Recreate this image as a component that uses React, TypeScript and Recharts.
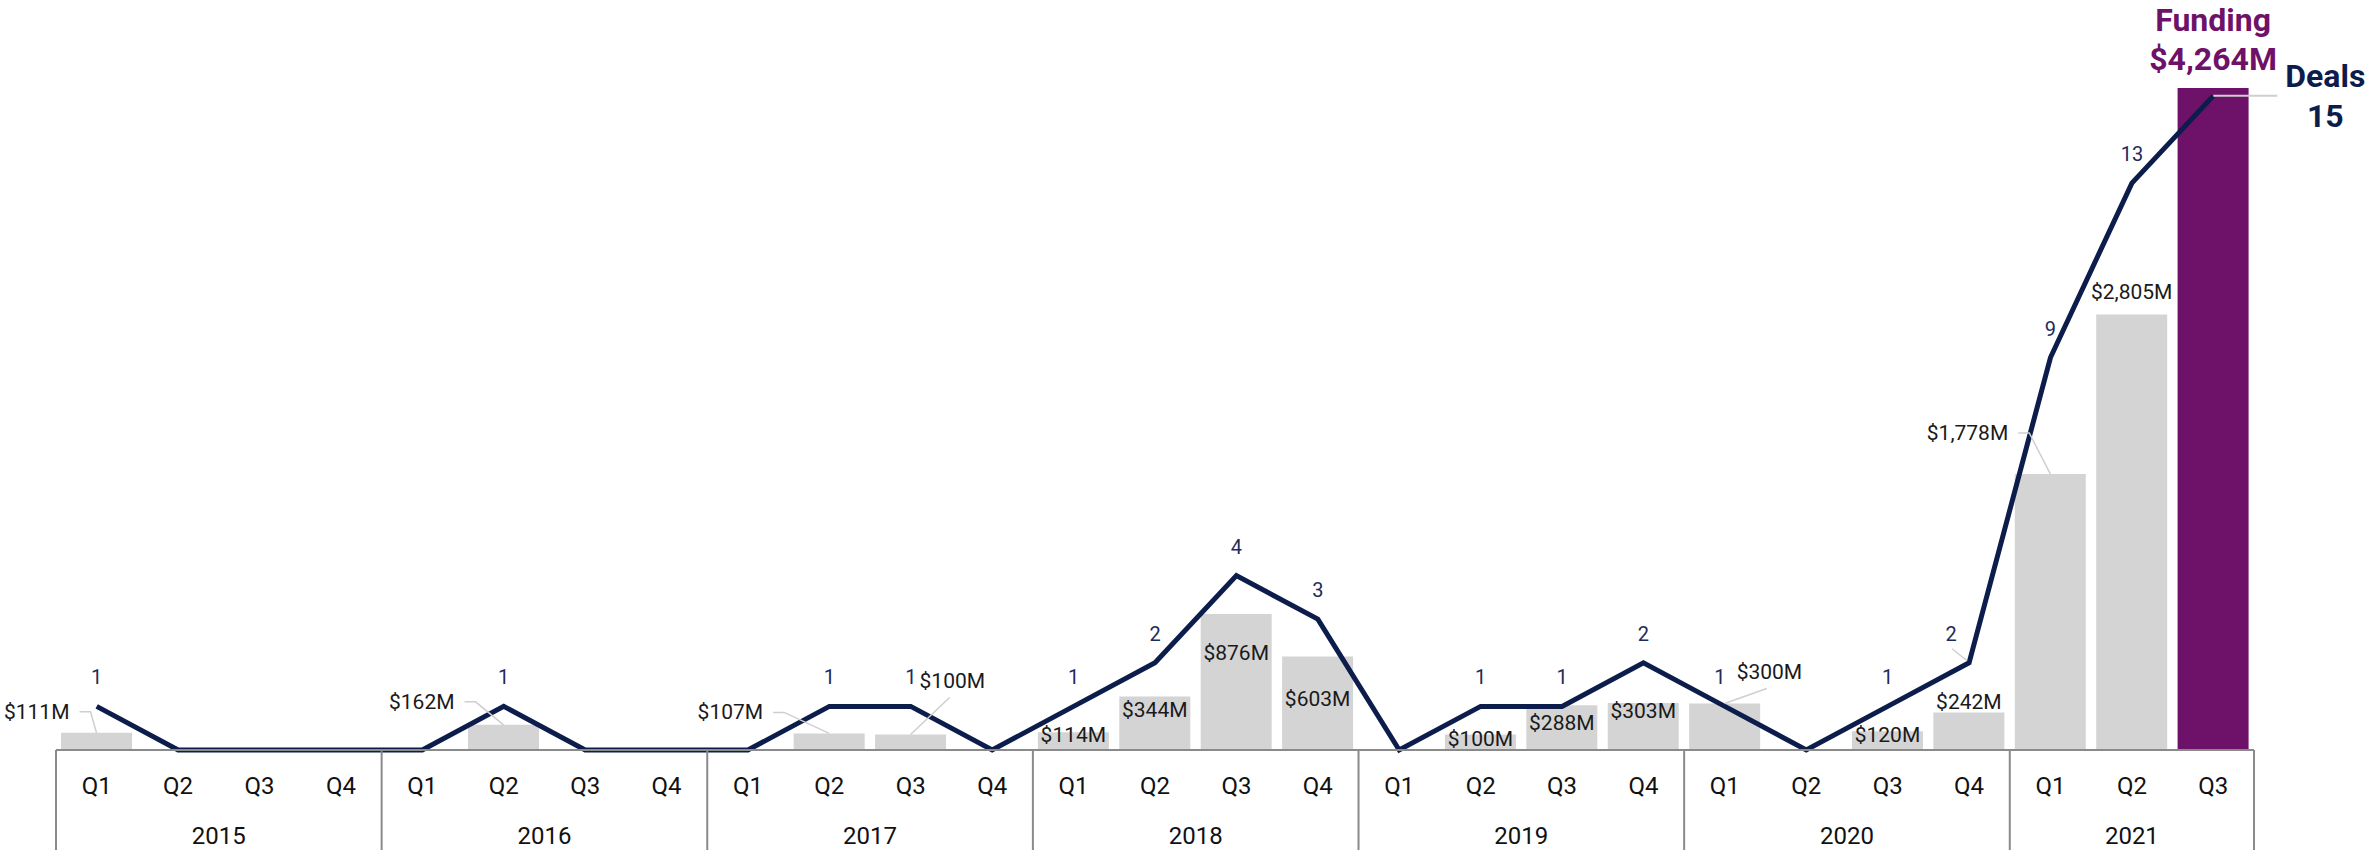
import { ComposedChart, Bar, Line, XAxis, YAxis, Cell, LabelList } from 'recharts'

const CHART_W = 2369
const CHART_H = 850
const AXIS_ROW = 50
const PLOT_BOTTOM = CHART_H - AXIS_ROW * 2
const MARGIN = { top: 88, right: 115, bottom: 0, left: 56 }

const FONT = 'Roboto, "Noto Sans", sans-serif'
const NAVY = '#0c1d4c'
const NAVY_TEXT = '#1d2b5c'
const PURPLE = '#6e1269'
const BAR_GRAY = '#d5d4d5'
const LEADER = '#cfcfcf'
const AXIS_GRAY = '#8a8a8a'

// data
const years = [
  '2015', '2015', '2015', '2015',
  '2016', '2016', '2016', '2016',
  '2017', '2017', '2017', '2017',
  '2018', '2018', '2018', '2018',
  '2019', '2019', '2019', '2019',
  '2020', '2020', '2020', '2020',
  '2021', '2021', '2021',
]
const quarters = [
  'Q1', 'Q2', 'Q3', 'Q4',
  'Q1', 'Q2', 'Q3', 'Q4',
  'Q1', 'Q2', 'Q3', 'Q4',
  'Q1', 'Q2', 'Q3', 'Q4',
  'Q1', 'Q2', 'Q3', 'Q4',
  'Q1', 'Q2', 'Q3', 'Q4',
  'Q1', 'Q2', 'Q3',
]
const deals = [1, 0, 0, 0, 0, 1, 0, 0, 0, 1, 1, 0, 1, 2, 4, 3, 0, 1, 1, 2, 1, 0, 1, 2, 9, 13, 15]
// funding in $M, null = no disclosed funding that quarter
const funding = [
  111, null, null, null,
  null, 162, null, null,
  null, 107, 100, null,
  114, 344, 876, 603,
  null, 100, 288, 303,
  300, null, 120, 242,
  1778, 2805, 4264,
]

const rows = years.map((year, i) => ({
  year,
  quarter: quarters[i],
  deals: deals[i],
  funding: funding[i],
}))

const LAST = rows.length - 1
const BAND = (CHART_W - MARGIN.left - MARGIN.right) / rows.length

// label placement (pixels relative to bar top / line point)
type Placement = { mode?: 'left' | 'right'; dx?: number; dy: number }
const fundingPlacement: Record<number, Placement> = {
  0: { mode: 'left', dx: -27, dy: -21 },
  5: { mode: 'left', dx: -49, dy: -23 },
  9: { mode: 'left', dx: -66, dy: -21 },
  10: { mode: 'right', dx: 9, dy: -53 },
  12: { dy: 3 },
  13: { dy: 13 },
  14: { dy: 39 },
  15: { dy: 43 },
  17: { dy: 5 },
  18: { dy: 18 },
  19: { dy: 8 },
  20: { mode: 'right', dx: 12, dy: -31 },
  22: { dy: 4 },
  23: { dy: -10 },
  24: { mode: 'left', dx: -42, dy: -41 },
  25: { dy: -23 },
}
const dealsPlacement: Record<number, { dx: number; dy: number; leader?: boolean }> = {
  20: { dx: -5, dy: -29 },
  23: { dx: -18, dy: -29, leader: true },
}

function fmtMoney(v: number) {
  return '$' + v.toLocaleString('en-US') + 'M'
}

// bars skip empty quarters, so find the category from the bar's centre
function categoryAt(cx: number) {
  return Math.min(LAST, Math.max(0, Math.floor((cx - MARGIN.left) / BAND)))
}

function FundingLabel(props: any) {
  const { x, y, width, value } = props
  if (value == null) return null
  const cx = Number(x) + Number(width) / 2
  const top = Number(y)
  const index = categoryAt(cx)

  if (index === LAST) {
    return (
      <g fontFamily={FONT} fontWeight={700} fontSize={32} fill={PURPLE} textAnchor="middle">
        <text x={cx} y={top - 57}>Funding</text>
        <text x={cx} y={top - 18}>{fmtMoney(value)}</text>
      </g>
    )
  }

  const p = fundingPlacement[index] ?? { dy: -14 }
  const ly = top + p.dy
  const common = { fontFamily: FONT, fontSize: 21, fill: '#1a1a1a', dominantBaseline: 'central' as const }

  if (p.mode === 'left') {
    const end = cx + (p.dx ?? 0)
    return (
      <g>
        <polyline
          points={`${end + 10},${ly} ${end + 21},${ly} ${cx},${top}`}
          fill="none"
          stroke={LEADER}
          strokeWidth={1.5}
        />
        <text x={end} y={ly} textAnchor="end" {...common}>{fmtMoney(value)}</text>
      </g>
    )
  }
  if (p.mode === 'right') {
    const start = cx + (p.dx ?? 0)
    return (
      <g>
        <line x1={cx} y1={top} x2={start + 30} y2={ly + 16} stroke={LEADER} strokeWidth={1.5} />
        <text x={start} y={ly} textAnchor="start" {...common}>{fmtMoney(value)}</text>
      </g>
    )
  }
  return (
    <text x={cx} y={ly} textAnchor="middle" {...common}>{fmtMoney(value)}</text>
  )
}

function DealsLabel(props: any) {
  const { x, y, value } = props
  if (!value) return null
  const px = Number(x)
  const py = Number(y)
  const index = categoryAt(px)

  if (index === LAST) {
    return (
      <g>
        <line x1={px} y1={py} x2={px + 64} y2={py} stroke={LEADER} strokeWidth={2} />
        <g fontFamily={FONT} fontWeight={700} fontSize={32} fill={NAVY} textAnchor="middle">
          <text x={px + 112} y={py - 9}>Deals</text>
          <text x={px + 112} y={py + 31}>{value}</text>
        </g>
      </g>
    )
  }

  const p = dealsPlacement[index] ?? { dx: 0, dy: -29 }
  const lx = px + p.dx
  const ly = py + p.dy
  return (
    <g>
      {p.leader && (
        <line x1={lx + 1} y1={ly + 15} x2={px - 2} y2={py - 2} stroke={LEADER} strokeWidth={1.5} />
      )}
      <text
        x={lx}
        y={ly}
        textAnchor="middle"
        dominantBaseline="central"
        fontFamily={FONT}
        fontSize={20}
        fill={NAVY_TEXT}
      >
        {value}
      </text>
    </g>
  )
}

function QuarterTick(props: any) {
  const { x, payload } = props
  return (
    <text
      x={x}
      y={PLOT_BOTTOM + 36}
      textAnchor="middle"
      dominantBaseline="central"
      fontFamily={FONT}
      fontSize={24}
      fill="#111"
    >
      {payload.value}
    </text>
  )
}

function YearTick(props: any) {
  const { x, payload } = props
  const i = payload.index
  const half = payload.offset || BAND / 2
  const first = i === 0 || years[i - 1] !== years[i]
  const count = years.filter((y) => y === years[i]).length
  return (
    <g>
      {first && (
        <>
          <line x1={x - half} y1={PLOT_BOTTOM} x2={x - half} y2={CHART_H} stroke={AXIS_GRAY} strokeWidth={2} />
          <text
            x={x - half + count * half}
            y={PLOT_BOTTOM + 86}
            textAnchor="middle"
            dominantBaseline="central"
            fontFamily={FONT}
            fontSize={24}
            fill="#111"
          >
            {payload.value}
          </text>
        </>
      )}
      {i === years.length - 1 && (
        <line x1={x + half} y1={PLOT_BOTTOM} x2={x + half} y2={CHART_H} stroke={AXIS_GRAY} strokeWidth={2} />
      )}
    </g>
  )
}

export default function App() {
  return (
    <div style={{ width: CHART_W, height: CHART_H, background: '#fff' }}>
      <style>{'body{margin:0}'}</style>
      <ComposedChart width={CHART_W} height={CHART_H} data={rows} margin={MARGIN}>
        <XAxis
          xAxisId="q"
          dataKey="quarter"
          height={AXIS_ROW}
          interval={0}
          tickLine={false}
          axisLine={{ stroke: AXIS_GRAY, strokeWidth: 2 }}
          tick={<QuarterTick />}
        />
        <XAxis
          xAxisId="y"
          dataKey="year"
          height={AXIS_ROW}
          interval={0}
          tickLine={false}
          axisLine={false}
          tick={<YearTick />}
        />
        <YAxis yAxisId="f" hide width={0} domain={[0, 4264]} />
        <YAxis yAxisId="d" hide width={0} orientation="right" domain={[0, 15.18]} />
        <Bar xAxisId="q" yAxisId="f" dataKey="funding" barSize={71} isAnimationActive={false}>
          {rows.map((_, i) => (
            <Cell key={i} fill={i === LAST ? PURPLE : BAR_GRAY} />
          ))}
          <LabelList dataKey="funding" content={<FundingLabel />} />
        </Bar>
        <Line
          xAxisId="q"
          yAxisId="d"
          dataKey="deals"
          type="linear"
          stroke={NAVY}
          strokeWidth={5}
          dot={false}
          activeDot={false}
          isAnimationActive={false}
        >
          <LabelList dataKey="deals" content={<DealsLabel />} />
        </Line>
      </ComposedChart>
    </div>
  )
}
